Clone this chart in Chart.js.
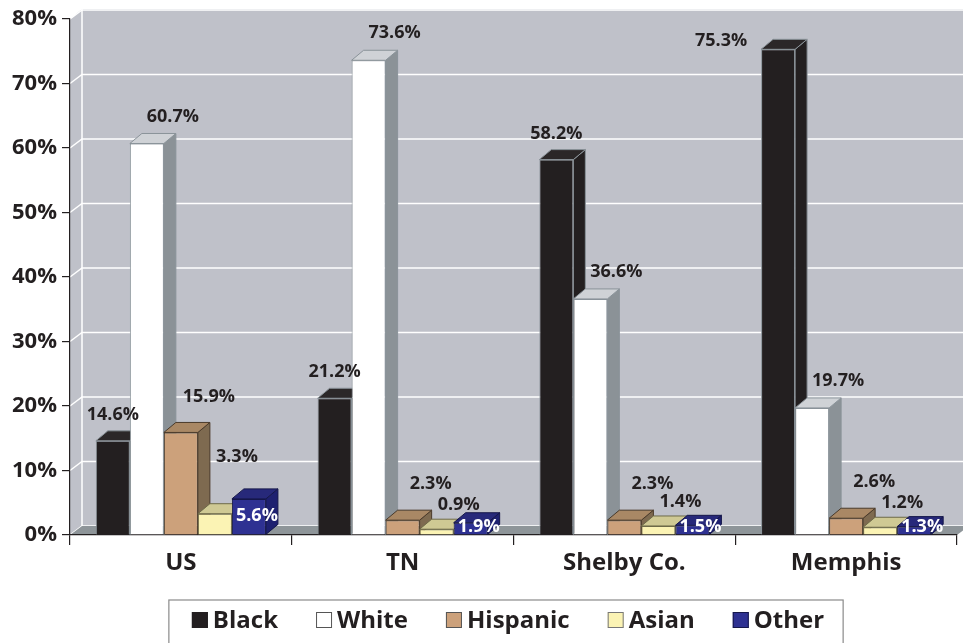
<!DOCTYPE html>
<html>
<head>
<meta charset="utf-8">
<script src="https://cdn.jsdelivr.net/npm/chart.js@4/dist/chart.umd.min.js"></script>
<style>
    html, body { margin: 0; padding: 0; background: #fff; }
    #wrap { width: 963px; height: 643px; position: relative; }
</style>
</head>
<body>
<div id="wrap"><canvas id="chart"></canvas></div>
<script>
// Population by race, 4 areas
const categories = ['US', 'TN', 'Shelby Co.', 'Memphis'];
const seriesNames = ['Black', 'White', 'Hispanic', 'Asian', 'Other'];
const blackValues = [14.6, 21.2, 58.2, 75.3];
const whiteValues = [60.7, 73.6, 36.6, 19.7];
const hispanicValues = [15.9, 2.3, 2.3, 2.6];
const asianValues = [3.3, 0.9, 1.4, 1.2];
const otherValues = [5.6, 1.9, 1.5, 1.3];
const yMax = 80;
const yStep = 10;

// colours: front, top, side, edge
const palette = [
    { front: '#231f20', top: '#2b2728', side: '#231f20', edge: '#8a9399', key: '#231f20' },
    { front: '#ffffff', top: '#cfd2d6', side: '#8b9297', edge: '#8a9399', key: '#555555' },
    { front: '#cca17b', top: '#a98865', side: '#7e6a50', edge: '#4a3a2a', key: '#555555' },
    { front: '#fbf3b4', top: '#cfc994', side: '#c9c490', edge: '#6e6a48', key: '#777777' },
    { front: '#2e3192', top: '#27297a', side: '#1e2070', edge: '#15174a', key: '#15174a' }
];

const DEPTH_X = 12, DEPTH_Y = 10;   // bar depth
const WALL_X = 12, WALL_Y = 9;      // back wall offset
const TEXT = '#231f20';
const FONT = "'Open Sans', 'DejaVu Sans', sans-serif";

const allValues = [blackValues, whiteValues, hispanicValues, asianValues, otherValues];

function poly(ctx, pts, fill, stroke) {
    ctx.beginPath();
    ctx.moveTo(pts[0][0], pts[0][1]);
    for (let i = 1; i < pts.length; i++) ctx.lineTo(pts[i][0], pts[i][1]);
    ctx.closePath();
    ctx.fillStyle = fill;
    ctx.fill();
    if (stroke) {
        ctx.strokeStyle = stroke;
        ctx.lineWidth = 1;
        ctx.stroke();
    }
}

const threeD = {
    id: 'threeD',
    // back wall, side wall, floor and wall gridlines
    beforeDraw(chart) {
        const { ctx, chartArea: a, scales } = chart;
        const y = scales.y;
        ctx.save();
        poly(ctx, [[a.left, a.top], [a.left + WALL_X, a.top - WALL_Y - 1], [chart.width, a.top - WALL_Y - 1],
                   [chart.width, a.bottom - WALL_Y], [a.left, a.bottom]], '#bfc1c9');
        ctx.strokeStyle = '#ffffff';
        ctx.lineWidth = 1.5;
        for (let v = 0; v <= yMax; v += yStep) {
            const py = y.getPixelForValue(v);
            ctx.beginPath();
            ctx.moveTo(a.left, py);
            ctx.lineTo(a.left + WALL_X, py - WALL_Y);
            ctx.lineTo(chart.width, py - WALL_Y);
            ctx.stroke();
        }
        ctx.beginPath();
        ctx.moveTo(a.left + WALL_X, a.top - WALL_Y - 1);
        ctx.lineTo(a.left + WALL_X, a.bottom - WALL_Y);
        ctx.stroke();
        // floor
        poly(ctx, [[a.left, a.bottom], [a.right, a.bottom], [a.right + WALL_X, a.bottom - WALL_Y],
                   [a.left + WALL_X, a.bottom - WALL_Y]], '#8e9599');
        ctx.restore();
    },
    // bars left to right: front, side, top; then value labels
    beforeDatasetsDraw(chart) {
        const { ctx, chartArea: a } = chart;
        ctx.save();
        chart.data.datasets.forEach((ds, i) => {
            const c = palette[i];
            chart.getDatasetMeta(i).data.forEach(el => {
                el.draw(ctx);
                const x1 = el.x - el.width / 2;
                const x2 = el.x + el.width / 2;
                const t = el.y, b = el.base;
                poly(ctx, [[x2, t], [x2 + DEPTH_X, t - DEPTH_Y], [x2 + DEPTH_X, b - DEPTH_Y], [x2, b]], c.side, c.edge);
                poly(ctx, [[x1, t], [x1 + DEPTH_X, t - DEPTH_Y], [x2 + DEPTH_X, t - DEPTH_Y], [x2, t]], c.top, c.edge);
            });
        });

        const offsets = [
            { dx: 0, dy: -26 },
            { dx: 26, dy: -27 },
            { dx: 28, dy: -36 },
            { dx: 22, dy: -24 },
            { dx: 8, dy: 0 }
        ];
        ctx.font = "bold 18px " + FONT;
        ctx.textAlign = 'center';
        ctx.textBaseline = 'middle';
        chart.data.datasets.forEach((ds, i) => {
            const meta = chart.getDatasetMeta(i);
            meta.data.forEach((el, j) => {
                const txt = ds.data[j].toFixed(1) + '%';
                let x = el.x + offsets[i].dx;
                let y = el.y + offsets[i].dy;
                ctx.fillStyle = TEXT;
                if (i === 4) {
                    y = Math.min(el.y + 17, el.base - 8);
                    ctx.fillStyle = '#ffffff';
                }
                // keep clear of a taller neighbour on the right
                if (i === 3) {
                    const next = chart.getDatasetMeta(4).data[j];
                    if (next.y < el.y - 10) y = next.y - 42;
                }
                if (y < a.top + 6) {
                    // no room above, put it to the left
                    x = el.x - 57;
                    y = el.y - 8;
                }
                ctx.fillText(txt, x, y);
            });
        });
        ctx.restore();
        return false;
    },
    // legend with frame
    afterDraw(chart) {
        const { ctx } = chart;
        ctx.save();
        ctx.font = "bold 24px " + FONT;
        ctx.textBaseline = 'middle';
        const box = 16, gap = 5, spacing = 38;
        const items = chart.data.datasets.map((ds, i) => ({ label: ds.label, w: box + gap + ctx.measureText(ds.label).width, c: palette[i] }));
        const total = items.reduce((s, it) => s + it.w, 0) + spacing * (items.length - 1);
        let x = 508 - total / 2;
        const cy = 620;
        ctx.strokeStyle = '#8a8a8a';
        ctx.lineWidth = 1.2;
        ctx.strokeRect(x - 23, 600, total + 42, 60);
        items.forEach(it => {
            ctx.fillStyle = it.c.front;
            ctx.fillRect(x, cy - box / 2, box, box);
            ctx.strokeStyle = it.c.key;
            ctx.lineWidth = 1;
            ctx.strokeRect(x + 0.5, cy - box / 2 + 0.5, box - 1, box - 1);
            ctx.fillStyle = TEXT;
            ctx.fillText(it.label, x + box + gap, cy + 1);
            x += it.w + spacing;
        });
        ctx.restore();
    }
};

const datasets = seriesNames.map((name, i) => ({
    label: name,
    data: allValues[i],
    backgroundColor: palette[i].front,
    borderColor: palette[i].edge,
    borderWidth: 1,
    categoryPercentage: 0.767,
    barPercentage: 1
}));

new Chart(document.getElementById('chart'), {
    type: 'bar',
    data: { labels: categories, datasets },
    plugins: [threeD],
    options: {
        responsive: true,
        maintainAspectRatio: false,
        animation: false,
        layout: { padding: { top: 19, right: 6, left: 0, bottom: 0 } },
        plugins: {
            legend: { display: false },
            tooltip: { enabled: false }
        },
        scales: {
            x: {
                offset: true,
                grid: { offset: true, drawOnChartArea: false, color: '#231f20', tickLength: 10, lineWidth: 1.2 },
                border: { display: true, color: '#231f20', width: 1.2 },
                ticks: { color: TEXT, font: { family: FONT, size: 24, weight: 'bold' }, padding: 4 },
                afterFit(scale) { scale.height = 108; }
            },
            y: {
                min: 0,
                max: yMax,
                ticks: { stepSize: yStep, color: TEXT, padding: 5, font: { family: FONT, size: 22, weight: 'bold' },
                         callback: v => v + '%' },
                grid: { drawOnChartArea: false, color: '#231f20', tickLength: 8, lineWidth: 1.2 },
                border: { display: true, color: '#231f20', width: 1.2 },
                afterFit(scale) { scale.width = 70; }
            }
        }
    }
});
</script>
</body>
</html>
